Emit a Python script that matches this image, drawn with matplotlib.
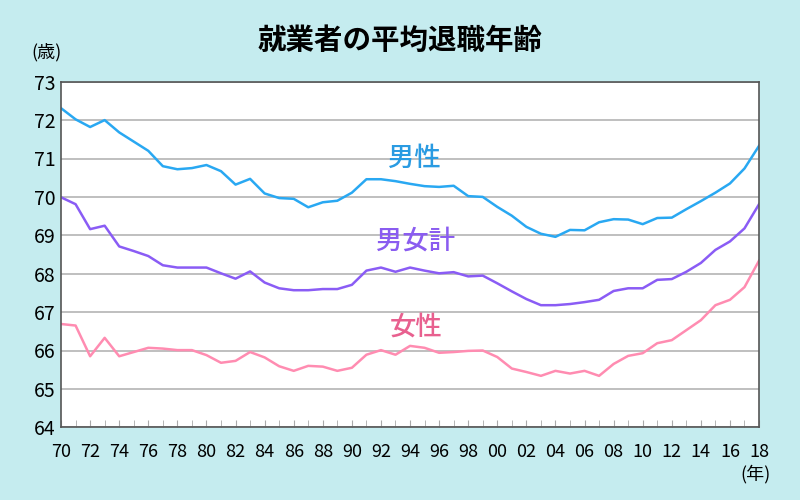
import matplotlib
matplotlib.use("Agg")
import matplotlib.pyplot as plt
from matplotlib.ticker import MultipleLocator

plt.rcParams['font.family'] = ['Noto Sans CJK JP', 'DejaVu Sans']

# ---------------- data ----------------
years = list(range(1970, 2019))

male = [72.31, 72.02, 71.82, 72.00, 71.68, 71.44, 71.20, 70.80, 70.72, 70.75,
        70.83, 70.67, 70.32, 70.47, 70.09, 69.97, 69.95, 69.73, 69.86, 69.90,
        70.11, 70.46, 70.46, 70.41, 70.34, 70.28, 70.26, 70.29, 70.02, 70.00,
        69.74, 69.51, 69.22, 69.04, 68.96, 69.14, 69.13, 69.34, 69.42, 69.41,
        69.29, 69.45, 69.46, 69.68, 69.89, 70.11, 70.35, 70.74, 71.33]

total = [69.99, 69.81, 69.16, 69.25, 68.71, 68.59, 68.46, 68.22, 68.16, 68.16,
         68.16, 68.01, 67.87, 68.06, 67.77, 67.62, 67.57, 67.57, 67.60, 67.60,
         67.71, 68.08, 68.16, 68.05, 68.16, 68.08, 68.01, 68.04, 67.93, 67.95,
         67.75, 67.54, 67.34, 67.18, 67.18, 67.21, 67.26, 67.32, 67.55, 67.62,
         67.62, 67.84, 67.86, 68.05, 68.28, 68.62, 68.84, 69.18, 69.81]

female = [66.69, 66.65, 65.85, 66.33, 65.85, 65.96, 66.07, 66.05, 66.01, 66.01,
          65.88, 65.68, 65.73, 65.96, 65.82, 65.59, 65.47, 65.60, 65.58, 65.47,
          65.55, 65.89, 66.01, 65.89, 66.12, 66.07, 65.94, 65.96, 65.99, 66.00,
          65.83, 65.53, 65.44, 65.34, 65.47, 65.40, 65.47, 65.34, 65.65, 65.86,
          65.93, 66.19, 66.27, 66.53, 66.79, 67.18, 67.32, 67.65, 68.34]

xtick_years = list(range(1970, 2019, 2))
xtick_labels = [f"{y % 100:02d}" for y in xtick_years]

# ---------------- plot ----------------
bg = "#c5ecef"
fig = plt.figure(figsize=(8, 5), dpi=100, facecolor=bg)
ax = fig.add_axes([0.0763, 0.1454, 0.8725, 0.6912])
ax.set_facecolor("white")

ax.plot(years, male, color="#29a8f2", lw=1.8)
ax.plot(years, total, color="#8a5cf5", lw=1.8)
ax.plot(years, female, color="#ff8cb1", lw=1.8)

ax.set_xlim(1970, 2018)
ax.set_ylim(64, 73)
ax.yaxis.set_major_locator(MultipleLocator(1))
ax.grid(axis="y", color="#b4b4b4", lw=1.2)
ax.set_axisbelow(True)

ax.set_xticks(xtick_years)
ax.set_xticklabels(xtick_labels)
ax.xaxis.set_minor_locator(MultipleLocator(1))
ax.tick_params(axis="x", which="both", direction="in", length=5, color="#aaaaaa",
               labelsize=13, pad=11)
ax.tick_params(axis="y", length=0, labelsize=14, pad=4)

for s in ax.spines.values():
    s.set_color("#555555")
    s.set_linewidth(1.2)

ax.text(1994.3, 71.0, "男性", color="#2a9be2", fontsize=19, fontweight="medium",
        ha="center", va="center")
ax.text(1994.4, 68.85, "男女計", color="#8a5cf0", fontsize=19, fontweight="medium",
        ha="center", va="center")
ax.text(1994.4, 66.6, "女性", color="#e8608f", fontsize=19, fontweight="medium",
        ha="center", va="center")

fig.text(0.5, 0.918, "就業者の平均退職年齢", fontsize=20.5, fontweight="bold",
         ha="center", va="center")
fig.text(0.058, 0.895, "(歳)", fontsize=13, ha="center", va="center")
fig.text(0.945, 0.052, "(年)", fontsize=13, ha="center", va="center")

fig.savefig("out.png", dpi=100, facecolor=bg)
